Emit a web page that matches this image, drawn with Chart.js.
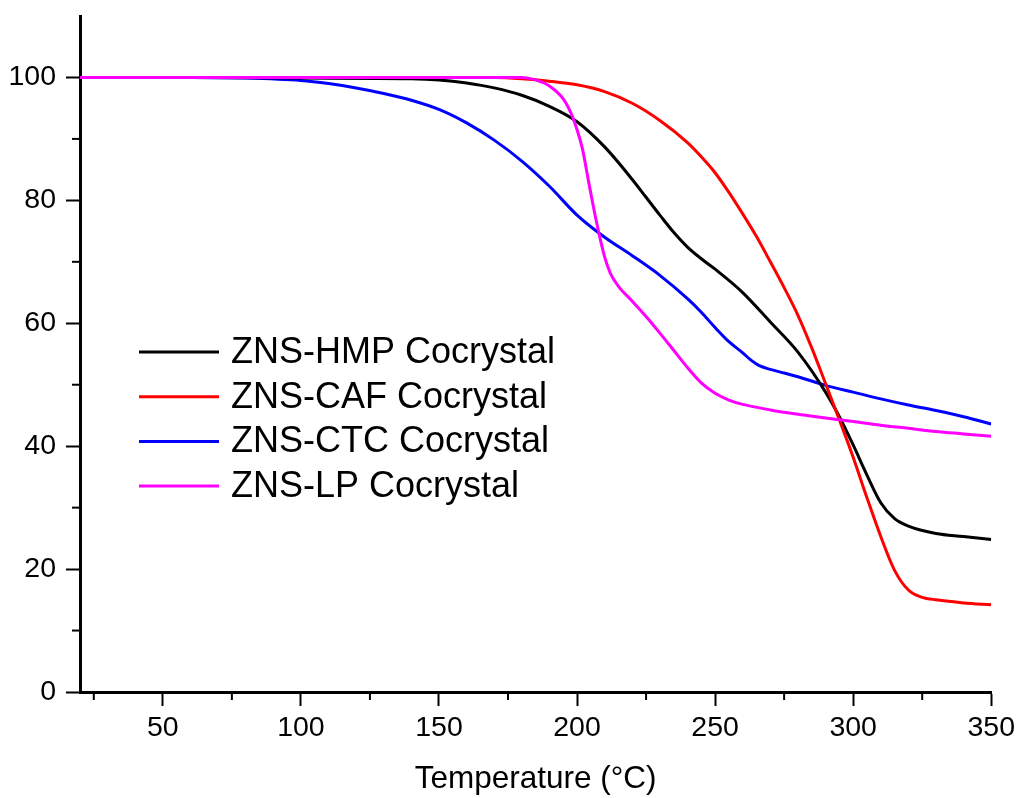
<!DOCTYPE html>
<html>
<head>
<meta charset="utf-8">
<script src="https://cdn.jsdelivr.net/npm/chart.js@4.4.1/dist/chart.umd.min.js"></script>
<style>
  html, body { margin: 0; padding: 0; background: #fff; }
</style>
</head>
<body>
<canvas id="chart" width="1020" height="798"></canvas>
<script>
// TGA curves - mass (%) vs temperature (°C)
const seriesNames = ['ZNS-HMP Cocrystal', 'ZNS-CAF Cocrystal', 'ZNS-CTC Cocrystal', 'ZNS-LP Cocrystal'];
const seriesColors = ['#000000', '#ff0000', '#0000ff', '#ff00ff'];

const hmpTemp = [20, 60, 100, 140, 150, 160, 170, 180, 190, 200, 210, 220, 225, 230, 235, 240, 245, 250, 260, 270, 280, 290, 295, 300, 305, 310, 315, 320, 330, 340, 350];
const hmpMass = [100, 100, 99.9, 99.8, 99.6, 99.1, 98.3, 97.1, 95.3, 92.8, 88.7, 83.4, 80.5, 77.6, 74.8, 72.4, 70.5, 68.8, 65.0, 60.2, 55.3, 48.8, 44.8, 40.2, 35.3, 30.8, 28.2, 27.0, 25.8, 25.3, 24.8];

const cafTemp = [20, 100, 170, 180, 190, 200, 210, 220, 230, 240, 245, 250, 255, 260, 265, 270, 275, 280, 285, 290, 295, 300, 305, 310, 315, 320, 325, 330, 340, 350];
const cafMass = [100, 100, 100, 99.8, 99.4, 98.8, 97.7, 95.8, 93.0, 89.4, 87.1, 84.5, 81.3, 77.8, 74.1, 70.0, 65.8, 61.3, 56.0, 50.2, 44.3, 38.2, 31.6, 25.3, 19.8, 16.6, 15.4, 15.0, 14.5, 14.2];

const ctcTemp = [20, 60, 80, 100, 110, 120, 130, 140, 150, 160, 170, 180, 190, 200, 210, 220, 230, 240, 245, 250, 255, 260, 263, 266, 270, 275, 280, 290, 300, 310, 320, 330, 340, 350];
const ctcMass = [100, 100, 99.9, 99.5, 99.0, 98.3, 97.4, 96.3, 94.8, 92.6, 89.8, 86.4, 82.3, 77.6, 74.0, 71.0, 67.8, 64.0, 61.8, 59.3, 57.0, 55.2, 54.0, 53.1, 52.5, 51.9, 51.3, 49.9, 48.8, 47.7, 46.7, 45.8, 44.8, 43.6];

const lpTemp = [20, 100, 180, 185, 190, 195, 198, 200, 202, 204, 206, 208, 210, 212, 215, 220, 225, 230, 235, 240, 245, 250, 255, 260, 270, 280, 290, 300, 310, 320, 330, 340, 350];
const lpMass = [100, 100, 100, 99.6, 98.6, 96.5, 94.0, 91.5, 88.3, 83.5, 78.8, 74.5, 70.8, 68.2, 66.0, 63.6, 61.1, 58.4, 55.6, 52.8, 50.3, 48.6, 47.5, 46.8, 45.9, 45.2, 44.6, 44.0, 43.4, 42.9, 42.4, 42.0, 41.6];

const xMajorTicks = [50, 100, 150, 200, 250, 300, 350];
const xMinorTicks = [25, 75, 125, 175, 225, 275, 325];
const yMajorTicks = [0, 20, 40, 60, 80, 100];
const yMinorTicks = [10, 30, 50, 70, 90];

function toPoints(xs, ys) {
  return xs.map((x, i) => ({ x: x, y: ys[i] }));
}

const allTemps = [hmpTemp, cafTemp, ctcTemp, lpTemp];
const allMass = [hmpMass, cafMass, ctcMass, lpMass];
const drawOrder = [3, 2, 4, 1]; // magenta on top

const datasets = seriesNames.map((name, i) => ({
  label: name,
  data: toPoints(allTemps[i], allMass[i]),
  borderColor: seriesColors[i],
  backgroundColor: seriesColors[i],
  borderWidth: 3,
  pointRadius: 0,
  fill: false,
  tension: 0.4,
  cubicInterpolationMode: 'monotone',
  order: drawOrder[i]
}));

const fontFamily = "'Liberation Sans', Arial, sans-serif";

// minor tick marks on both axes
const minorTicks = {
  id: 'minorTicks',
  afterDraw(chart) {
    const ctx = chart.ctx;
    const area = chart.chartArea;
    const xs = chart.scales.x, ys = chart.scales.y;
    ctx.save();
    ctx.strokeStyle = '#000';
    ctx.lineWidth = 2;
    xMinorTicks.forEach(v => {
      const px = xs.getPixelForValue(v);
      ctx.beginPath();
      ctx.moveTo(px, area.bottom);
      ctx.lineTo(px, area.bottom + 8);
      ctx.stroke();
    });
    yMinorTicks.forEach(v => {
      const py = ys.getPixelForValue(v);
      ctx.beginPath();
      ctx.moveTo(area.left - 8, py);
      ctx.lineTo(area.left, py);
      ctx.stroke();
    });
    ctx.restore();
  }
};

// legend inside the plot, like the original
const innerLegend = {
  id: 'innerLegend',
  afterDraw(chart) {
    const ctx = chart.ctx;
    const area = chart.chartArea;
    const x0 = area.left + 59;
    const y0 = area.top + 336;
    const rowH = 44.7;
    ctx.save();
    ctx.font = "36px " + fontFamily;
    ctx.textBaseline = 'middle';
    ctx.fillStyle = '#000';
    chart.data.datasets.forEach((ds, i) => {
      const y = y0 + i * rowH;
      ctx.strokeStyle = ds.borderColor;
      ctx.lineWidth = 3;
      ctx.beginPath();
      ctx.moveTo(x0, y);
      ctx.lineTo(x0 + 80, y);
      ctx.stroke();
      ctx.fillText(ds.label, x0 + 92, y + 1);
    });
    ctx.restore();
  }
};

const ctx = document.getElementById('chart').getContext('2d');
const myChart = new Chart(ctx, {
  type: 'line',
  data: { datasets: datasets },
  options: {
    responsive: false,
    animation: false,
    layout: { padding: { top: 16, right: 28, left: 0, bottom: 0 } },
    plugins: {
      legend: { display: false },
      tooltip: { enabled: false }
    },
    scales: {
      x: {
        type: 'linear',
        min: 20,
        max: 350,
        afterBuildTicks: (scale) => { scale.ticks = xMajorTicks.map(v => ({ value: v })); },
        afterFit: (scale) => { scale.height = 106; },
        grid: { display: true, drawOnChartArea: false, drawTicks: true, tickLength: 14, tickWidth: 2, tickColor: '#000' },
        border: { display: true, color: '#000', width: 3 },
        ticks: { color: '#000', font: { family: fontFamily, size: 28.5 }, padding: 5, maxRotation: 0, autoSkip: false },
        title: { display: true, text: 'Temperature (°C)', color: '#000', font: { family: fontFamily, size: 31.5 }, padding: { top: 0, bottom: 0 } }
      },
      y: {
        min: 0,
        max: 110,
        afterBuildTicks: (scale) => { scale.ticks = yMajorTicks.map(v => ({ value: v })); },
        afterFit: (scale) => { scale.width = 80; scale.paddingTop = 0; scale.paddingBottom = 0; },
        grid: { display: true, drawOnChartArea: false, drawTicks: true, tickLength: 14, tickWidth: 2, tickColor: '#000' },
        border: { display: true, color: '#000', width: 3 },
        ticks: { color: '#000', font: { family: fontFamily, size: 28.5 }, padding: 10, autoSkip: false }
      }
    }
  },
  plugins: [minorTicks, innerLegend]
});
</script>
</body>
</html>
